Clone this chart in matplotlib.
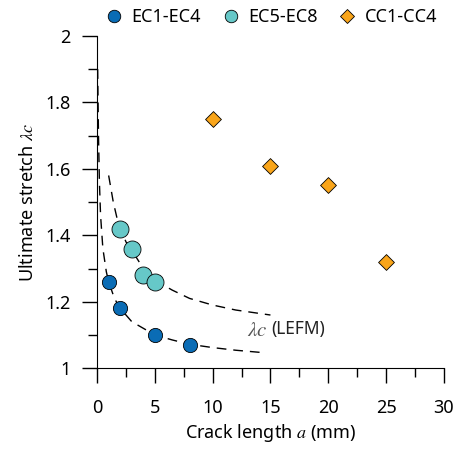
import matplotlib
matplotlib.use("Agg")
import matplotlib.pyplot as plt
from matplotlib.lines import Line2D
from matplotlib.ticker import MultipleLocator

plt.rcParams['font.family'] = ['Noto Sans', 'DejaVu Sans']
plt.rcParams['mathtext.fontset'] = 'stix'

# measured points
ec14_a = [1, 2, 5, 8]
ec14_l = [1.26, 1.18, 1.10, 1.07]
ec58_a = [2, 3, 4, 5]
ec58_l = [1.42, 1.36, 1.28, 1.26]
cc_a = [10, 15, 20, 25]
cc_l = [1.75, 1.61, 1.55, 1.32]

# LEFM curves
lefm_lo_a = [0.05, 0.12, 0.2, 0.3, 0.5, 0.8, 1.0, 1.5, 2.0, 3.0, 4.0, 5.0, 6.5, 8.0, 10.0, 12.0, 14.3]
lefm_lo_l = [1.90, 1.70, 1.56, 1.46, 1.36, 1.29, 1.26, 1.21, 1.18, 1.14, 1.12, 1.10, 1.085, 1.072, 1.062, 1.054, 1.047]
lefm_hi_a = [1.0, 1.4, 1.8, 2.5, 3.0, 4.0, 5.0, 6.5, 8.0, 10.0, 12.0, 15.0]
lefm_hi_l = [1.58, 1.50, 1.44, 1.38, 1.355, 1.30, 1.265, 1.235, 1.21, 1.19, 1.175, 1.16]

yticks = [1, 1.2, 1.4, 1.6, 1.8, 2]
ytick_labels = ["1", "1.2", "1.4", "1.6", "1.8", "2"]
xticks = [0, 5, 10, 15, 20, 25, 30]

C_EC14 = '#0a6cb5'
C_EC58 = '#66c8c8'
C_CC = '#f9a51a'

fig = plt.figure(figsize=(4.58, 4.49), dpi=100)
ax = fig.add_axes([0.212, 0.180, 0.757, 0.740])

ax.plot(lefm_lo_a, lefm_lo_l, color='black', lw=1, dashes=(7, 5), zorder=1)
ax.plot(lefm_hi_a, lefm_hi_l, color='black', lw=1, dashes=(7, 5), zorder=1)

ax.scatter(ec14_a, ec14_l, s=105, marker='o', color=C_EC14, edgecolor='black', lw=0.6, zorder=3)
ax.scatter(ec58_a, ec58_l, s=150, marker='o', color=C_EC58, edgecolor='black', lw=0.6, zorder=3)
ax.scatter(cc_a, cc_l, s=65, marker='D', color=C_CC, edgecolor='black', lw=0.6, zorder=3)

ax.text(13.0, 1.112, r"$\lambda c$", fontsize=15, color='#555555', ha='left', va='center')
ax.text(15.1, 1.117, "(LEFM)", fontsize=12.5, color='#222222', ha='left', va='center')

ax.set_xlim(0, 30)
ax.set_ylim(1, 2)
ax.set_xticks(xticks)
ax.set_yticks(yticks)
ax.set_yticklabels(ytick_labels)
ax.xaxis.set_minor_locator(MultipleLocator(2.5))
ax.yaxis.set_minor_locator(MultipleLocator(0.1))
ax.tick_params(axis='both', which='major', direction='out', length=11, width=1, labelsize=13)
ax.tick_params(axis='both', which='minor', direction='out', length=6.5, width=1)
ax.tick_params(axis='x', which='major', pad=11)
ax.tick_params(axis='y', which='major', pad=8)

ax.spines['top'].set_visible(False)
ax.spines['right'].set_visible(False)

ax.set_xlabel(r"Crack length $a$ (mm)", fontsize=13, labelpad=4)
ax.set_ylabel(r"Ultimate stretch $\lambda c$", fontsize=13, labelpad=6)

# legend handles all the same size, like the original
handles = [
    Line2D([], [], ls='none', marker='o', ms=9, mfc=C_EC14, mec='black', mew=0.6),
    Line2D([], [], ls='none', marker='o', ms=9, mfc=C_EC58, mec='black', mew=0.6),
    Line2D([], [], ls='none', marker='D', ms=7, mfc=C_CC, mec='black', mew=0.6),
]
fig.legend(handles, ['EC1-EC4', 'EC5-EC8', 'CC1-CC4'], loc='center',
           bbox_to_anchor=(0.588, 0.962), ncol=3, frameon=False, fontsize=13,
           handletextpad=0.25, columnspacing=0.95, handlelength=1.4, borderpad=0)

fig.savefig("out.png", dpi=100)
